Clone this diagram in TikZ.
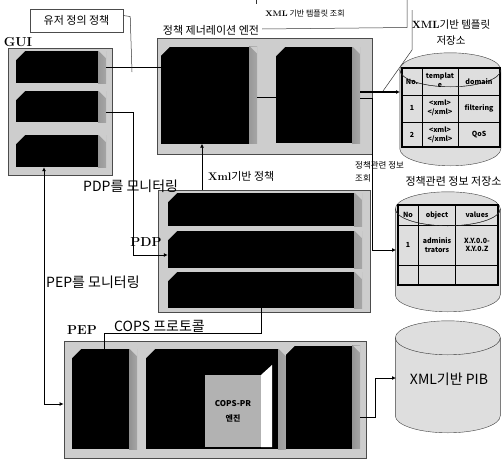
\documentclass[tikz,border=0pt]{standalone}
\usepackage{fontspec}
\newfontfamily\kr{Noto Sans CJK KR}
\usetikzlibrary{arrows.meta,calc,positioning}
\definecolor{cpanel}{RGB}{205,205,205}
\definecolor{cdb}{RGB}{222,222,222}
\tikzset{
  panel/.style={rectangle,fill=cpanel,draw=black!70,thick,inner sep=0pt},
  block/.style={rectangle,fill=black,draw=none,inner sep=0pt,
    path picture={
      \shade[left color=black,right color=gray!70]
        ([xshift=-8pt]path picture bounding box.north east) rectangle
        (path picture bounding box.south east);
      \fill[cpanel] (path picture bounding box.north west) -- ++(9,0) -- ++(-9,9) -- cycle;
      \fill[cpanel] (path picture bounding box.north east) -- ++(-7,0) -- ++(7,7) -- cycle;}},
  dbshape/.style={fill=cdb,draw=black!75},
  lab/.style={font=\kr\fontsize{11}{12}\selectfont,inner sep=0pt},
  midlab/.style={font=\kr\fontsize{10.5}{14}\selectfont,inner sep=0pt},
  biglab/.style={font=\kr\fontsize{14}{15}\selectfont,inner sep=0pt},
  smlab/.style={font=\kr\fontsize{8.5}{10}\selectfont,inner sep=0pt},
  ttl/.style={font=\bfseries\fontsize{13}{14}\selectfont,inner sep=0pt},
  cell/.style={font=\kr\bfseries\fontsize{7}{8.5}\selectfont,align=center,inner sep=0pt},
  conn/.style={-{Latex[length=4pt,width=4pt]},thick},
  wire/.style={thick},
  thinwire/.style={black!80,line width=0.5pt}
}
\newcommand{\ltn}[1]{{\normalfont\bfseries #1}}
% name, centre x, centre y, width, height
\newcommand{\dbcyl}[5]{
  \pgfmathsetmacro{\rxval}{#4/2}
  \pgfmathsetmacro{\midh}{#5-34}
  \node[rectangle,inner sep=0pt,minimum width=#4pt,minimum height=#5pt] (#1) at (#2,#3) {};
  \draw[dbshape] (#1.north west) ++(0,17) -- ++(0,\midh) arc (180:360:\rxval pt and 17pt)
    -- ++(0,-\midh) arc (0:180:\rxval pt and 17pt) -- cycle;
  \draw[black!80] (#1.north west) ++(0,17) arc (180:360:\rxval pt and 17pt);
}
\begin{document}
\begin{tikzpicture}[x=1pt,y=-1pt]
\useasboundingbox[fill=white] (0,0) rectangle (503,461);
% ---------------- GUI ----------------
\node[panel,minimum width=104pt,minimum height=127pt] (gui) at (60,111.5) {};
\node[block,minimum width=90pt,minimum height=32pt] (gui1) at (61,67) {};
\node[block,minimum width=90pt,minimum height=31pt] (gui2) at (61,106.5) {};
\node[block,minimum width=90pt,minimum height=32pt] (gui3) at (61,151) {};
\node[ttl] (guilab) at (18,42) {GUI};
% ---------------- policy engine ----------------
\node[panel,minimum width=215pt,minimum height=116pt] (eng) at (265,96.5) {};
\node[block,minimum width=96pt,minimum height=97pt] (eng1) at (209,95) {};
\node[block,minimum width=84pt,minimum height=96pt] (eng2) at (318,95) {};
\node[lab] (englab) at (211,30) {정책 제너레이션 엔전};
% ---------------- PDP ----------------
\node[panel,minimum width=212pt,minimum height=122pt] (pdp) at (264,251) {};
\node[block,minimum width=194pt,minimum height=33pt] (pdp1) at (265,209.5) {};
\node[block,minimum width=194pt,minimum height=37pt] (pdp2) at (265,249.5) {};
\node[block,minimum width=194pt,minimum height=36pt] (pdp3) at (265,290) {};
\node[ttl] (pdplab) at (146,242) {PDP};
% ---------------- PEP ----------------
\node[panel,minimum width=302pt,minimum height=117pt] (pep) at (215,399.5) {};
\node[block,minimum width=65pt,minimum height=100pt] (pep1) at (104.5,399) {};
\node[block,minimum width=140pt,minimum height=100pt] (pep2) at (216,399) {};
\node[block,minimum width=74pt,minimum height=103pt] (pep3) at (323,397) {};
\node[rectangle,fill=gray!60,minimum width=56pt,minimum height=72pt,inner sep=0pt,
  align=center,font=\kr\bfseries\fontsize{8}{15}\selectfont] (cube) at (233,411) {COPS-PR\\엔진};
\fill[white] (cube.north east) -- ++(11,-10) -- ($(cube.south east)+(11,0)$) -- (cube.south east) -- cycle;
\node[ttl] (peplab) at (82,330) {PEP};
% ---------------- template store ----------------
\dbcyl{tmpldb}{450.5}{109.5}{101}{113}
\draw[line width=1.3pt] (402,68) rectangle (500,147);
\foreach \cx in {422,458} \draw[line width=1pt] (\cx,68) -- (\cx,147);
\foreach \cy in {95,122} \draw[line width=1pt] (402,\cy) -- (500,\cy);
\draw[black!80] (tmpldb.north west) ++(0,17) arc (180:360:50.5pt and 17pt);
\node[cell] (th1) at (412,82) {No.};
\node[cell] (th2) at (440,80) {templat\\e};
\node[cell] (th3) at (479,82) {domain};
\node[cell] (c11) at (412,108) {1};
\node[cell] (c12) at (440,108) {<xml>~\\</xml>};
\node[cell] (c13) at (479,108) {filtering};
\node[cell] (c21) at (412,135) {2};
\node[cell] (c22) at (440,135) {<xml>~\\</xml>};
\node[cell] (c23) at (479,135) {QoS};
\node[midlab,align=center] (tmpllab) at (451,33) {\ltn{XML}기반 템플릿\\[2pt]저장소};
% ---------------- policy info store ----------------
\dbcyl{infodb}{448}{252}{105}{120}
\draw[line width=1.3pt] (398,205) rectangle (498,285);
\foreach \cx in {418,455} \draw[line width=1pt] (\cx,205) -- (\cx,285);
\foreach \cy in {225,265} \draw[line width=1pt] (398,\cy) -- (498,\cy);
\draw[black!80] (infodb.north west) ++(0,17) arc (180:360:52.5pt and 17pt);
\node[cell] (ih1) at (408,215) {No};
\node[cell] (ih2) at (437,215) {object};
\node[cell] (ih3) at (477,215) {values};
\node[cell] (i11) at (408,245) {1};
\node[cell] (i12) at (437,245) {adminis\\trators};
\node[cell] (i13) at (477,245) {X.Y.0.0-\\X.Y.0.Z};
\node[lab] (infolab) at (453.5,181) {정책관련 정보 저장소};
% ---------------- PIB ----------------
\dbcyl{pibdb}{448}{377}{105}{112}
\node[biglab] (piblab) at (449,379) {XML기반 PIB};
% ---------------- connectors ----------------
\coordinate (tmplin) at (400,92);
\coordinate (infoin) at (396,250);
\coordinate (pibin) at (396,378);
\node[rectangle,draw=black!70,fill=white,minimum width=93pt,minimum height=23pt,
  lab] (userpol) at (76.5,20.5) {유저 정의 정책};
\draw[wire] (gui1.east) -- (eng1.west |- gui1.east);
\draw[thinwire] (userpol.east) ++(0,-5) -- ++(7,1) -- (132,72);
\draw[wire,<-,>={Latex[length=4pt,width=4pt]}] ([xshift=-7pt]eng1.south) -- ([xshift=-7pt]eng1.south |- pdp.north);
\draw[wire] ([yshift=-2pt]eng1.east) -- ([yshift=-2pt]eng2.west);
\draw[conn,line width=1.5pt] ([yshift=3pt]eng2.east) -- (tmplin);
\draw[conn] ([yshift=-3pt]eng2.east) -- (372,98) -- (372,250) -- (infoin);
\draw[conn] ([yshift=-5.5pt]gui2.east) -- (133,112) -- (133,255) -- ([yshift=-5.5pt]pdp2.west);
\draw[wire,<->,>={Latex[length=4pt,width=4pt]}] (gui3.south) ++(-17,0) -- (44,404) -- (pep.west |- 0,404);
\draw[wire] (pdp3.south) ++(-4,0) -- (261,333) -| (pep1.north);
\draw[conn] ([yshift=-20pt]pep3.east) -- (375,417) -- (375,378) -- (pibin);
\draw[thinwire] (412,10) -- (412,50) -- (383,91);
\draw[thinwire] (256,0) -- (256,4);
\draw[thinwire] (407,0) -- (407,27.5) -- (262,29);
% ---------------- labels ----------------
\node[smlab,font=\kr\fontsize{8}{10}\selectfont] (xmlq) at (305,14) {\ltn{XML} 기반 템플릿 조회};
\node[biglab,anchor=west] (pdpmon) at (83,186) {PDP를 모니터링};
\node[lab,anchor=west] (xmlpol) at (208,176) {\ltn{Xml}기반 정책};
\node[smlab,anchor=west] (infoq1) at (355,165) {정책관련 정보};
\node[smlab,anchor=west] (infoq2) at (355,178) {조회};
\node[biglab,anchor=west] (pepmon) at (46,282) {PEP를 모니터링};
\node[biglab,anchor=west] (copslab) at (114,326) {COPS 프로토콜};
\end{tikzpicture}
\end{document}
